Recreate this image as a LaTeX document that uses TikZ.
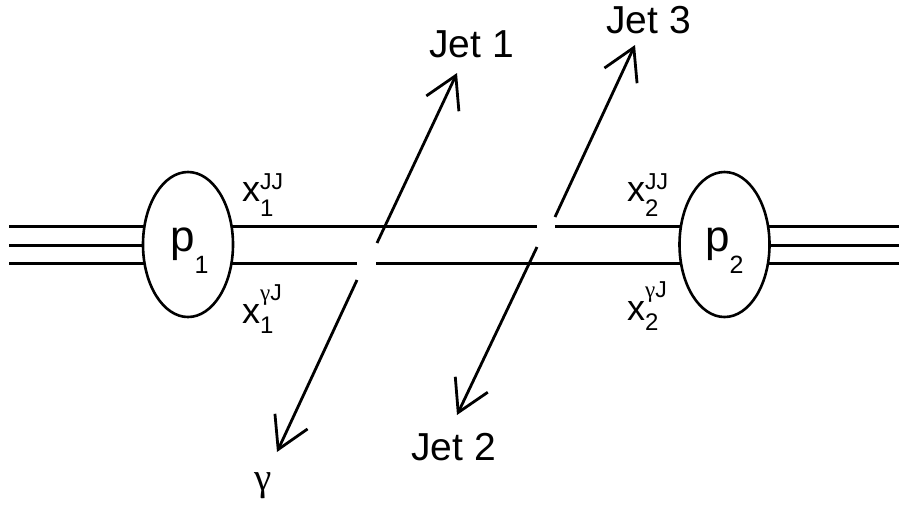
\documentclass[tikz,border=0pt]{standalone}
\usepackage{fontspec}
\setmainfont{Liberation Sans}
\newfontfamily\greekfont{Liberation Serif}
\usetikzlibrary{shapes.geometric,arrows.meta,backgrounds}
\newcommand{\xlbl}[4]{x\makebox[0pt][l]{\raisebox{#3}{\fontsize{23}{23}\selectfont #2}}\raisebox{#4}{\fontsize{24}{24}\selectfont #1}}
\newcommand{\plbl}[1]{p\raisebox{-22pt}{\fontsize{25}{25}\selectfont #1}}
\newcommand{\gam}{{\greekfont γ}}
\begin{document}
\begin{tikzpicture}[x=1pt,y=-1pt,
  beam/.style={line width=3pt},
  proton/.style={ellipse,draw,fill=white,line width=2.6pt,minimum width=90pt,minimum height=145pt,inner sep=0pt},
  ptext/.style={font=\fontsize{44}{48}\selectfont,inner sep=0pt,anchor=base west},
  xtext/.style={font=\fontsize{36}{40}\selectfont,inner sep=0pt,anchor=base west},
  jettext/.style={font=\fontsize{39}{44}\selectfont,inner sep=0pt,anchor=base west},
  jetarrow/.style={line width=2.8pt,-{Straight Barb[length=31pt,width=36pt]}}]
\useasboundingbox (0,0) rectangle (899,507);

% protons
\node[proton] (p1) at (188,244.5) {};
\node[proton] (p2) at (724.5,244.5) {};
\node[ptext] (p1t) at (170,251) {\plbl{1}};
\node[ptext] (p2t) at (705,251) {\plbl{2}};

% coordinates for beam lines
\coordinate (LT) at (9,226.5);
\coordinate (LM) at (9,245);
\coordinate (LB) at (9,263);
\coordinate (RT) at (899,226.5);
\coordinate (RM) at (899,245);
\coordinate (RB) at (899,263);
\coordinate (gTL) at (537,226.5);
\coordinate (gTR) at (555,226.5);
\coordinate (gBL) at (357,263);
\coordinate (gBR) at (376,263);

\begin{scope}[on background layer]
  \draw[beam] (LT) -- (LT -| p1.center);
  \draw[beam] (LM) -- (LM -| p1.center);
  \draw[beam] (LB) -- (LB -| p1.center);
  \draw[beam] (RT) -- (RT -| p2.center);
  \draw[beam] (RM) -- (RM -| p2.center);
  \draw[beam] (RB) -- (RB -| p2.center);
  \draw[beam] (gTL -| p1.center) -- (gTL);
  \draw[beam] (gTR) -- (gTR -| p2.center);
  \draw[beam] (gBL -| p1.center) -- (gBL);
  \draw[beam] (gBR) -- (gBR -| p2.center);
\end{scope}

% momentum fraction labels
\node[xtext] (x1jj) at (242,201) {\xlbl{1}{JJ}{12pt}{-15pt}};
\node[xtext] (x1gj) at (242,323) {\xlbl{1}{\gam J}{23pt}{-10pt}};
\node[xtext] (x2jj) at (627,201) {\xlbl{2}{JJ}{12pt}{-15pt}};
\node[xtext] (x2gj) at (627,320) {\xlbl{2}{\gam J}{23pt}{-10pt}};

% outgoing particles
\node[jettext] (jet1) at (429,57) {Jet 1};
\node[jettext] (jet3) at (606,33) {Jet 3};
\node[jettext] (jet2) at (411,460) {Jet 2};
\node[jettext,anchor=base] (gam) at (263,490) {\gam};

\coordinate (a1s) at (377,243);
\coordinate (a1e) at (457,73);
\coordinate (ags) at (357,280);
\coordinate (age) at (277,452);
\coordinate (a3s) at (555,217);
\coordinate (a3e) at (635,45);
\coordinate (a2s) at (537,247);
\coordinate (a2e) at (457,415);

\draw[jetarrow] (a1s) -- (a1e);
\draw[jetarrow] (ags) -- (age);
\draw[jetarrow] (a3s) -- (a3e);
\draw[jetarrow] (a2s) -- (a2e);
\end{tikzpicture}
\end{document}
